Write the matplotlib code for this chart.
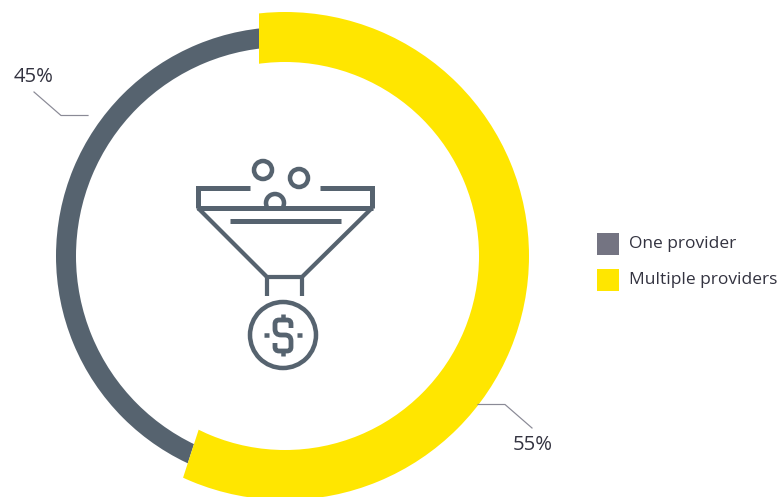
import matplotlib
matplotlib.use('Agg')
import matplotlib.pyplot as plt
from matplotlib.patches import Wedge, Rectangle, Circle, Arc, PathPatch
from matplotlib.path import Path

# 데이터
categories = ['One provider', 'Multiple providers']
values = [45, 55]
colors = ['#56636F', '#FFE600']
legend_colors = ['#747482', '#FFE600']
text_color = '#333340'
line_color = '#8A8A96'

W, H = 782, 497
PX = 0.72   # 1px in points at dpi 100

plt.rcParams['font.family'] = ['Open Sans', 'DejaVu Sans']

fig = plt.figure(figsize=(W / 100, H / 100), dpi=100)
ax = fig.add_axes([0, 0, 1, 1])
ax.set_xlim(0, W)
ax.set_ylim(0, H)
ax.axis('off')

# y축을 위에서 아래로 읽는 픽셀값으로 변환
def Y(y):
    return H - y

# 도넛: 링은 같은 중심, 조각 경계는 apex 기준 각도로 자름
cx, cy = 285, 256
apex = (259, 244)
grey_ring = (229, 20)
yellow_ring = (244, 50)

split = 90 - 360 * values[1] / sum(values)

clip_y = Wedge((apex[0], Y(apex[1])), 900, split, 90, transform=ax.transData)
clip_g = Wedge((apex[0], Y(apex[1])), 900, 90, split + 360, transform=ax.transData)

grey = Wedge((cx, Y(cy)), grey_ring[0], 0, 360, width=grey_ring[1], fc=colors[0], ec='none')
ax.add_patch(grey)
grey.set_clip_path(clip_g)

yellow = Wedge((cx, Y(cy)), yellow_ring[0], 0, 360, width=yellow_ring[1], fc=colors[1], ec='none')
ax.add_patch(yellow)
yellow.set_clip_path(clip_y)

# 퍼센트 라벨과 지시선
ax.plot([34, 61, 88], [Y(92), Y(115.5), Y(115.5)], color=line_color, lw=1.0 * PX * 1.2)
ax.plot([478, 505, 532], [Y(404.5), Y(404.5), Y(428)], color=line_color, lw=1.0 * PX * 1.2)
ax.text(34, Y(76.5), f'{values[0]}%', fontsize=14.6, color=text_color, ha='center', va='center')
ax.text(532.5, Y(445.5), f'{values[1]}%', fontsize=14.6, color=text_color, ha='center', va='center')

# 범례
for i, (name, c) in enumerate(zip(categories, legend_colors)):
    y0 = 233 + 36 * i
    ax.add_patch(Rectangle((597, Y(y0 + 22)), 22, 22, fc=c, ec='none'))
    ax.text(629, Y(y0 + 11), name, fontsize=12.5, color=text_color, ha='left', va='center')

# 깔때기 아이콘
icon = colors[0]
def line(xs, ys, lw=5):
    ax.plot(xs, [Y(v) for v in ys], color=icon, lw=lw * PX, solid_capstyle='butt', solid_joinstyle='miter')

line([250, 198, 198], [188, 188, 208])
line([320, 372, 372], [188, 188, 208])
line([197, 373], [208, 208])
line([230, 341], [221, 221])
line([198, 267, 302, 372], [208, 277, 277, 208], lw=4.2)
line([267, 267], [277, 296], lw=4.2)
line([302, 302], [277, 296], lw=4.2)

for x, y in [(263, 170), (299, 178)]:
    ax.add_patch(Circle((x, Y(y)), 9, fc='none', ec=icon, lw=4.5 * PX))
ax.add_patch(Arc((275, Y(203)), 18, 18, theta1=-25, theta2=205, ec=icon, lw=4.5 * PX))
ax.add_patch(Circle((283, Y(335)), 33, fc='none', ec=icon, lw=4.5 * PX))

# 달러 기호
s = [(291, 328), (291, 324), (291, 320), (287, 320), (279, 320), (275, 320), (275, 324), (275, 329),
     (275, 335), (281, 335), (285, 335), (291, 335), (291, 341), (291, 347), (291, 351), (287, 351),
     (279, 351), (275, 351), (275, 347), (275, 343)]
codes = [Path.MOVETO, Path.LINETO, Path.CURVE3, Path.CURVE3, Path.LINETO, Path.CURVE3, Path.CURVE3, Path.LINETO,
         Path.CURVE3, Path.CURVE3, Path.LINETO, Path.CURVE3, Path.CURVE3, Path.LINETO, Path.CURVE3, Path.CURVE3,
         Path.LINETO, Path.CURVE3, Path.CURVE3, Path.LINETO]
ax.add_patch(PathPatch(Path([(x, Y(y)) for x, y in s], codes), fc='none', ec=icon, lw=4.8 * PX, capstyle='butt'))
line([283, 283], [314, 319], lw=4.5)
line([283, 283], [351, 356], lw=4.5)
line([264, 269], [335, 335], lw=4.5)
line([297, 302], [335, 335], lw=4.5)

fig.savefig('out.png', dpi=100, facecolor='white')
